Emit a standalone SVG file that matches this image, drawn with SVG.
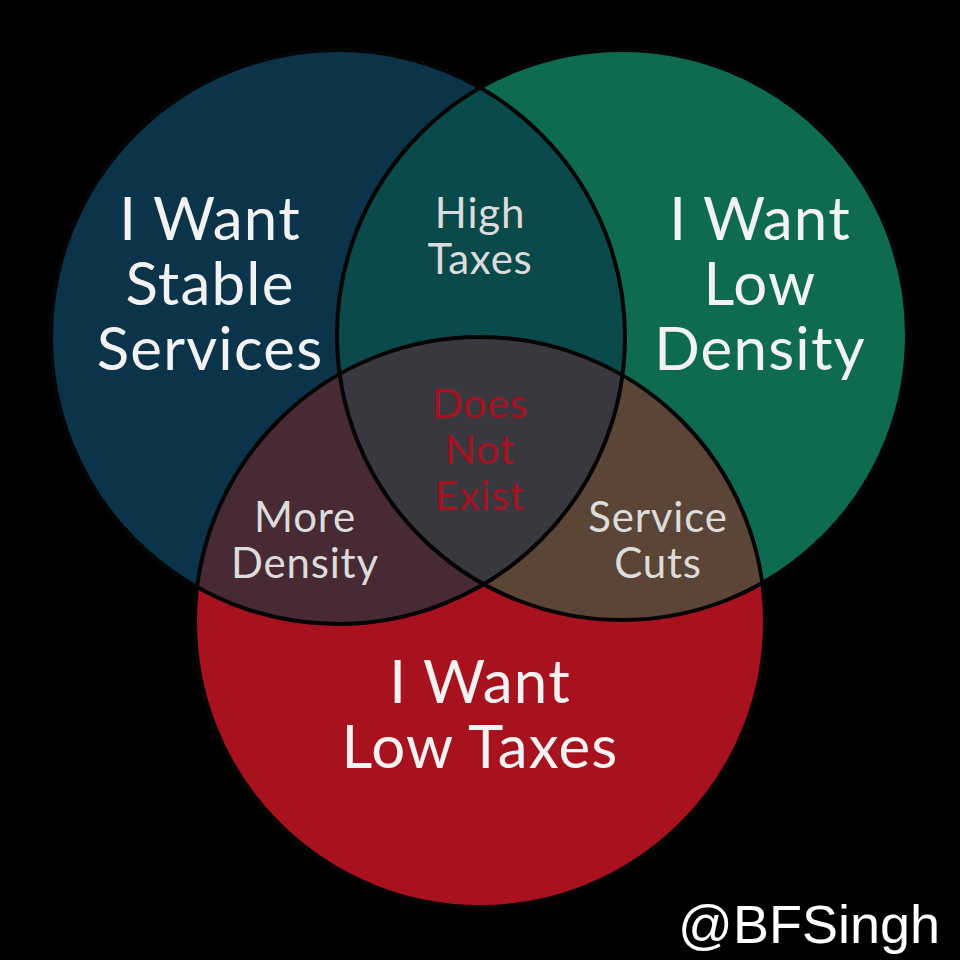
<svg xmlns="http://www.w3.org/2000/svg" width="960" height="960" viewBox="0 0 960 960">
<defs>
<clipPath id="cBlue"><circle cx="338" cy="337" r="287"/></clipPath>
<clipPath id="cGreen"><circle cx="622" cy="335" r="285"/></clipPath>
<style>
.lbl{font-family:Lato,"Open Sans",sans-serif;fill:#f2f2f2;text-anchor:middle;font-weight:400}
.big{font-size:60px;letter-spacing:1.2px}
.mid{font-size:42px;fill:#dcdcdc;letter-spacing:0.8px}
.no{font-size:41px;fill:#a6121f;letter-spacing:0.8px}
.edge{fill:none;stroke:#050505;stroke-width:4}
</style>
</defs>
<rect width="960" height="960" fill="#000"/>
<g id="set-blue"><circle cx="338" cy="337" r="287" fill="#0b3349"/></g>
<g id="set-green"><circle cx="622" cy="335" r="285" fill="#0e6b50"/></g>
<g id="set-red"><circle cx="480" cy="622" r="285" fill="#a8111e"/></g>
<g id="blue-green" clip-path="url(#cBlue)"><circle cx="622" cy="335" r="285" fill="#0b4a4b"/></g>
<g id="blue-red" clip-path="url(#cBlue)"><circle cx="480" cy="622" r="285" fill="#472a33"/></g>
<g id="green-red" clip-path="url(#cGreen)"><circle cx="480" cy="622" r="285" fill="#5a4537"/></g>
<g id="center" clip-path="url(#cGreen)"><g clip-path="url(#cBlue)"><circle cx="480" cy="622" r="285" fill="#3a383f"/></g></g>
<g id="connectors">
<circle class="edge" cx="338" cy="337" r="287"/>
<circle class="edge" cx="622" cy="335" r="285"/>
<circle class="edge" cx="480" cy="622" r="285"/>
</g>
<g id="label-blue" class="lbl big"><text x="210" y="240">I Want</text><text x="210" y="305">Stable</text><text x="210" y="370">Services</text></g>
<g id="label-green" class="lbl big"><text x="760" y="240">I Want</text><text x="760" y="305">Low</text><text x="760" y="370">Density</text></g>
<g id="label-red" class="lbl big"><text x="480" y="703">I Want</text><text x="480" y="768">Low Taxes</text></g>
<g id="label-bg" class="lbl mid"><text x="480" y="228">High</text><text x="480" y="274">Taxes</text></g>
<g id="label-br" class="lbl mid"><text x="305" y="532">More</text><text x="305" y="578">Density</text></g>
<g id="label-gr" class="lbl mid"><text x="658" y="532">Service</text><text x="658" y="578">Cuts</text></g>
<g id="label-center" class="lbl no"><text x="480" y="418">Does</text><text x="480" y="464">Not</text><text x="480" y="510">Exist</text></g>
<text x="940" y="943" text-anchor="end" font-family="Liberation Sans,Arial,sans-serif" font-size="54" fill="#fff">@BFSingh</text>
</svg>
